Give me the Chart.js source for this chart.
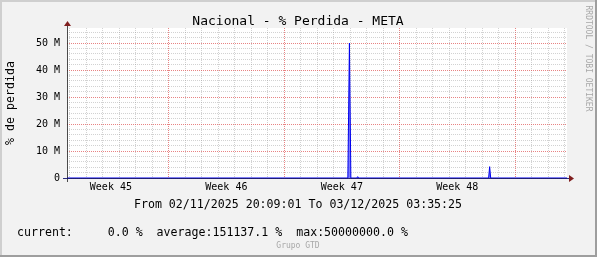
<!DOCTYPE html>
<html>
<head>
<meta charset="utf-8">
<script src="https://cdn.jsdelivr.net/npm/chart.js@4/dist/chart.umd.min.js"></script>
<style>
html, body { margin: 0; padding: 0; background: #f2f2f2; }
canvas { display: block; }
</style>
</head>
<body>
<canvas id="perdidaChart" width="597" height="257"></canvas>
<script>
// time axis is hours since 02/11/2025 20:09:01
const rangeHours = 727.44;
const sampleHours = [0, 408.6, 410.9, 413.0, 421.5, 422.9, 424.3, 613.4, 614.9, 616.4, 727.44];
const perdida = [0, 0, 50000000, 0, 0, 500000, 0, 0, 4200000, 0, 0];
const firstMidnight = 3.85;    // 03/11 00:00
const sundayIndex = 6;         // 09/11 is the 7th midnight
const weekCenters = [63.85, 231.85, 399.85, 567.85];
const weekLabels = ['Week 45', 'Week 46', 'Week 47', 'Week 48'];
const yMax = 55.56e6;

const MONO = '"DejaVu Sans Mono", monospace';
const MINOR = 'rgba(143,143,143,0.4)';
const MAJOR = 'rgba(222,79,79,0.7)';

const xTicks = [];
for (let d = 0; firstMidnight + d * 24 < rangeHours; d++) {
    xTicks.push({ value: firstMidnight + d * 24, kind: (d - sundayIndex) % 7 === 0 ? 'major' : 'minor' });
}
weekCenters.forEach((c, i) => xTicks.push({ value: c, kind: 'label', text: weekLabels[i] }));
xTicks.sort((p, q) => p.value - q.value);

const yTicks = [];
for (let k = 0; k * 2e6 < yMax; k++) {
    yTicks.push({ value: k * 2e6, kind: k % 5 === 0 ? 'major' : 'minor' });
}

const gridColor = c => {
    const t = c.tick;
    if (!t) return MINOR;
    if (t.kind === 'label') return 'rgba(0,0,0,0)';
    return t.kind === 'major' ? MAJOR : MINOR;
};

const rrdDecor = {
    id: 'rrdDecor',
    beforeDraw(chart) {
        const { ctx, chartArea: a, width, height } = chart;
        ctx.save();
        ctx.fillStyle = '#f2f2f2';
        ctx.fillRect(0, 0, width, height);
        ctx.fillStyle = '#cfcfcf';
        ctx.fillRect(0, 0, width, 2);
        ctx.fillRect(0, 0, 2, height);
        ctx.fillStyle = '#9e9e9e';
        ctx.fillRect(0, height - 2, width, 2);
        ctx.fillRect(width - 2, 0, 2, height);
        ctx.fillStyle = '#ffffff';
        ctx.fillRect(a.left, a.top, a.right - a.left, a.bottom - a.top);
        ctx.restore();
    },
    afterDatasetsDraw(chart) {
        const { ctx, chartArea: a } = chart;
        ctx.save();
        ctx.strokeStyle = 'rgba(31,31,31,0.8)';
        ctx.lineWidth = 1;
        ctx.beginPath();
        ctx.moveTo(a.left + 0.5, a.bottom + 4);
        ctx.lineTo(a.left + 0.5, a.top - 4);
        ctx.stroke();
        ctx.strokeStyle = 'rgba(20,20,110,0.9)';
        ctx.beginPath();
        ctx.moveTo(a.left - 4, a.bottom + 0.5);
        ctx.lineTo(a.right + 4, a.bottom + 0.5);
        ctx.stroke();
        ctx.fillStyle = '#801f1f';
        ctx.beginPath();
        ctx.moveTo(a.right + 2, a.bottom - 3);
        ctx.lineTo(a.right + 2, a.bottom + 4);
        ctx.lineTo(a.right + 7, a.bottom + 0.5);
        ctx.closePath();
        ctx.fill();
        ctx.beginPath();
        ctx.moveTo(a.left - 3, a.top - 2);
        ctx.lineTo(a.left + 4, a.top - 2);
        ctx.lineTo(a.left + 0.5, a.top - 7);
        ctx.closePath();
        ctx.fill();
        ctx.restore();
    },
    afterDraw(chart) {
        const ctx = chart.ctx;
        ctx.save();
        ctx.fillStyle = '#000';
        ctx.textBaseline = 'alphabetic';
        ctx.textAlign = 'center';
        ctx.font = '13px ' + MONO;
        ctx.fillText('Nacional - % Perdida - META', 298, 25);
        ctx.font = '11.6px ' + MONO;
        ctx.fillText('From 02/11/2025 20:09:01 To 03/12/2025 03:35:25', 298, 208);
        ctx.textAlign = 'left';
        ctx.fillText('current:     0.0 %  average:151137.1 %  max:50000000.0 %', 17, 236);
        ctx.save();
        ctx.translate(14, 103);
        ctx.rotate(-Math.PI / 2);
        ctx.textAlign = 'center';
        ctx.fillText('% de perdida', 0, 0);
        ctx.restore();
        ctx.fillStyle = '#a8a8a8';
        ctx.font = '8px ' + MONO;
        ctx.textAlign = 'center';
        ctx.fillText('Grupo GTD', 298, 248);
        ctx.translate(586, 58.5);
        ctx.rotate(Math.PI / 2);
        ctx.fillText('RRDTOOL / TOBI OETIKER', 0, 0);
        ctx.restore();
    }
};

const chart = new Chart(document.getElementById('perdidaChart'), {
    type: 'line',
    data: {
        datasets: [{
            label: '% de perdida',
            data: sampleHours.map((h, i) => ({ x: h, y: perdida[i] })),
            borderColor: '#0000ee',
            backgroundColor: 'rgba(90,90,255,0.8)',
            borderWidth: 1,
            pointRadius: 0,
            tension: 0,
            fill: 'origin',
            clip: 3
        }]
    },
    options: {
        responsive: false,
        animation: false,
        devicePixelRatio: 1,
        layout: { padding: { left: 0, top: 28, right: 30, bottom: 0 } },
        plugins: { legend: { display: false }, title: { display: false }, tooltip: { enabled: false } },
        scales: {
            x: {
                type: 'linear',
                min: 0,
                max: rangeHours,
                afterBuildTicks: axis => { axis.ticks = xTicks.map(t => Object.assign({}, t)); },
                afterFit: axis => { axis.height = 79; },
                grid: { drawTicks: false, color: gridColor },
                border: { display: false, dash: [1, 1] },
                ticks: {
                    autoSkip: false,
                    maxRotation: 0,
                    minRotation: 0,
                    padding: 3,
                    color: '#000',
                    font: { family: MONO, size: 10 },
                    callback: (v, i, ticks) => ticks[i].kind === 'label' ? ticks[i].text : ''
                }
            },
            y: {
                type: 'linear',
                min: 0,
                max: yMax,
                afterBuildTicks: axis => { axis.ticks = yTicks.map(t => Object.assign({}, t)); },
                afterFit: axis => { axis.width = 67; },
                grid: { drawTicks: false, color: gridColor },
                border: { display: false, dash: [1, 1] },
                ticks: {
                    autoSkip: false,
                    padding: 7,
                    color: '#000',
                    font: { family: MONO, size: 10 },
                    callback: (v, i, ticks) => ticks[i].kind === 'major' ? (v === 0 ? '0' : (v / 1e6) + ' M') : ''
                }
            }
        }
    },
    plugins: [rrdDecor]
});
</script>
</body>
</html>
